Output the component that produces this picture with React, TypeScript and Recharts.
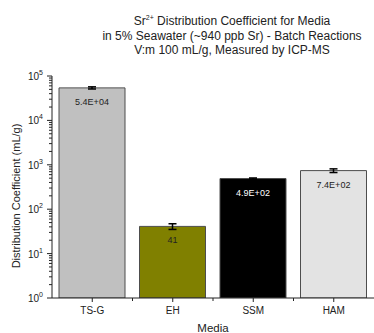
import { BarChart, Bar, XAxis, YAxis, Cell, ErrorBar, LabelList, Label } from 'recharts';

// Sr2+ Kd values (mL/g)
const categories = ['TS-G', 'EH', 'SSM', 'HAM'];
const kdValues = [54000, 41, 490, 740];
const kdErrors = [3000, 6, 15, 70];
const valueLabels = ['5.4E+04', '41', '4.9E+02', '7.4E+02'];
const barColors = ['#c0c0c0', '#808000', '#000000', '#e3e3e3'];
const labelColors = ['#222', '#222', '#fff', '#222'];

const majorTicks = [1, 10, 100, 1000, 10000, 100000];
const minorSteps = [2, 3, 4, 5, 6, 7, 8, 9];
const allTicks = [
  ...majorTicks,
  ...majorTicks.slice(0, -1).flatMap((d) => minorSteps.map((m) => m * d)),
];

const data = categories.map((name, i) => ({
  name,
  kd: kdValues[i],
  err: kdErrors[i],
  label: valueLabels[i],
}));

const FONT = '"Liberation Sans", Arial, sans-serif';

const YTick = (props: any) => {
  const { x, y, payload } = props;
  const v = payload.value;
  const exp = Math.round(Math.log10(v));
  const isMajor = Math.abs(Math.pow(10, exp) - v) < 1e-6;
  return (
    <g>
      <line x1={x - (isMajor ? 5 : 3)} x2={x} y1={y} y2={y} stroke="#222" strokeWidth={1} />
      {isMajor && (
        <text x={x - 9} y={y} dy={4} textAnchor="end" fontSize={10} fill="#222" fontFamily={FONT}>
          10
          <tspan fontSize={7} dy={-5}>
            {exp}
          </tspan>
        </text>
      )}
    </g>
  );
};

const XTick = (props: any) => {
  const { x, y, payload, index } = props;
  const half = payload.offset || 40;
  return (
    <g>
      <line x1={x} x2={x} y1={y} y2={y + 4} stroke="#222" />
      {index > 0 && <line x1={x - half} x2={x - half} y1={y} y2={y + 3} stroke="#222" />}
      <text x={x} y={y + 16} textAnchor="middle" fontSize={10} fill="#222" fontFamily={FONT}>
        {payload.value}
      </text>
    </g>
  );
};

const ValueLabel = (props: any) => {
  const { x, y, width, index, value } = props;
  return (
    <text
      x={x + width / 2}
      y={y + 17}
      textAnchor="middle"
      fontSize={9}
      fill={labelColors[index]}
      fontFamily={FONT}
    >
      {value}
    </text>
  );
};

export default function App() {
  return (
    <div style={{ position: 'absolute', left: 0, top: 0, width: 374, height: 333, fontFamily: FONT }}>
      <div
        style={{
          position: 'absolute',
          left: 84,
          width: 296,
          top: 14,
          textAlign: 'center',
          fontSize: 12,
          lineHeight: '14.5px',
          color: '#222',
        }}
      >
        <div>
          Sr<sup style={{ fontSize: 7, verticalAlign: 'top', lineHeight: '8px' }}>2+</sup> Distribution Coefficient for Media
        </div>
        <div>in 5% Seawater (~940 ppb Sr) - Batch Reactions</div>
        <div>V:m 100 mL/g, Measured by ICP-MS</div>
      </div>
      <BarChart
        width={374}
        height={333}
        data={data}
        margin={{ top: 76, right: 0, left: 0, bottom: 0 }}
        barSize={66}
      >
        <XAxis
          dataKey="name"
          height={35}
          tickSize={0}
          tickMargin={0}
          tickLine={false}
          tick={<XTick />}
          axisLine={{ stroke: '#222' }}
          interval={0}
        >
          <Label
            content={() => (
              <text x={213} y={332} textAnchor="middle" fontSize={11.5} fill="#222" fontFamily={FONT}>
                Media
              </text>
            )}
          />
        </XAxis>
        <YAxis
          scale="log"
          domain={[1, 100000]}
          allowDataOverflow
          ticks={allTicks}
          interval={0}
          width={52}
          tickSize={0}
          tickMargin={0}
          tickLine={false}
          tick={<YTick />}
          axisLine={{ stroke: '#222' }}
        >
          <Label
            content={() => (
              <text
                x={20}
                y={196}
                transform="rotate(-90 20 196)"
                textAnchor="middle"
                fontSize={11}
                fill="#222"
                fontFamily={FONT}
              >
                Distribution Coefficient (mL/g)
              </text>
            )}
          />
        </YAxis>
        <Bar dataKey="kd" stroke="#4d4d4d" strokeWidth={1} isAnimationActive={false}>
          {data.map((d, i) => (
            <Cell key={d.name} fill={barColors[i]} />
          ))}
          <ErrorBar dataKey="err" width={4} strokeWidth={1.5} stroke="#000" direction="y" />
          <LabelList dataKey="label" content={<ValueLabel />} />
        </Bar>
      </BarChart>
    </div>
  );
}
